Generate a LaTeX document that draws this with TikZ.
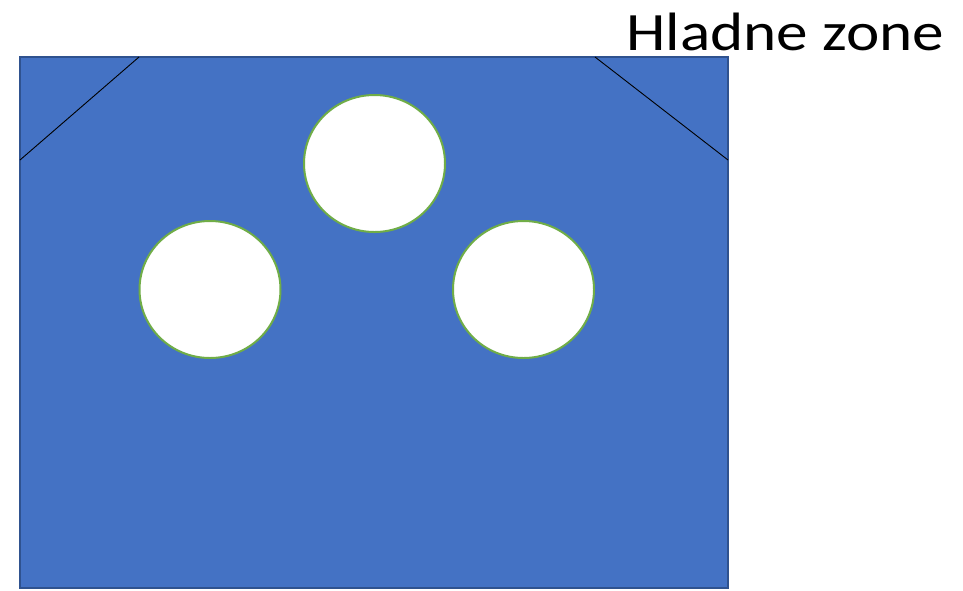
\documentclass[tikz,border=0pt]{standalone}
\usepackage{fontspec}
\setmainfont{Carlito}
\newfontfamily\widefont[FakeStretch=1.17]{Carlito}
\definecolor{boxfill}{HTML}{4472C4}
\definecolor{boxline}{HTML}{2F528F}
\definecolor{ringline}{HTML}{70AD47}
\tikzset{
  zonebox/.style={fill=boxfill,draw=boxline,line width=1.5pt},
  hole/.style={ellipse,fill=white,draw=ringline,line width=2pt,minimum width=141pt,minimum height=137pt,inner sep=0pt},
  cut/.style={draw=black,line width=0.9pt},
  title/.style={anchor=base west,inner sep=0pt,font=\widefont\fontsize{54pt}{60pt}\selectfont}
}
\usetikzlibrary{shapes.geometric}
\begin{document}
\begin{tikzpicture}[x=1pt,y=-1pt]
\useasboundingbox (0,0) rectangle (963,590);
\draw[zonebox] (20,57) rectangle (728,588);
\coordinate (l1) at (20,160);
\coordinate (l2) at (139,57);
\coordinate (r1) at (595,57);
\coordinate (r2) at (728,160);
\draw[cut] (l1) -- (l2);
\draw[cut] (r1) -- (r2);
\node[hole] (c1) at (374.5,163.5) {};
\node[hole] (c2) at (210,289.5) {};
\node[hole] (c3) at (523.5,289.5) {};
\node[title] (t) at (626,50.7) {Hladne zone};
\end{tikzpicture}
\end{document}
